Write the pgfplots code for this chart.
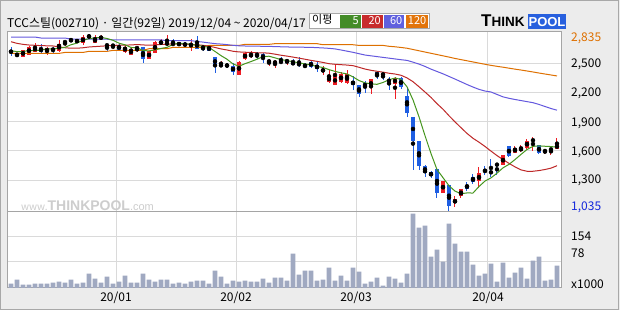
\documentclass[border=0pt]{standalone}
\usepackage{fontspec}
\setmainfont{Noto Sans CJK KR}
\newfontfamily\logofont{Liberation Sans}
\usepackage{pgfplots}
\usepackage{pgfplotstable}
\pgfplotsset{compat=1.18}

\definecolor{bgc}{RGB}{236,236,236}
\definecolor{outerc}{RGB}{168,168,168}
\definecolor{framec}{RGB}{165,165,165}
\definecolor{gridc}{RGB}{218,218,218}
\definecolor{upc}{RGB}{238,28,36}
\definecolor{dnc}{RGB}{30,94,226}
\definecolor{ma5c}{RGB}{70,150,30}
\definecolor{ma20c}{RGB}{190,40,40}
\definecolor{ma60c}{RGB}{100,88,222}
\definecolor{ma120c}{RGB}{222,112,0}
\definecolor{box5}{RGB}{68,140,40}
\definecolor{box20}{RGB}{200,44,44}
\definecolor{box60}{RGB}{96,96,222}
\definecolor{box120}{RGB}{226,116,10}
\definecolor{volc}{RGB}{160,169,193}
\definecolor{lblorange}{RGB}{222,112,0}
\definecolor{lblblue}{RGB}{20,40,220}
\definecolor{logoblue}{RGB}{40,96,222}
\definecolor{wmc}{RGB}{205,205,205}

\pgfplotstableread{
i o h l c
2 2568 2640 2565 2637
3 2589 2675 2585 2671
4 2619 2705 2616 2671
6 2619 2664 2589 2654
8 2630 2739 2619 2698
9 2712 2730 2678 2726
10 2726 2760 2719 2746
11 2719 2753 2705 2739
12 2712 2794 2684 2774
13 2767 2801 2753 2787
14 2712 2787 2712 2760
15 2753 2787 2739 2774
17 2680 2691 2650 2685
19 2616 2691 2609 2671
20 2589 2671 2589 2643
21 2650 2671 2616 2664
23 2547 2630 2541 2623
24 2609 2726 2602 2719
25 2705 2746 2684 2719
26 2684 2787 2678 2719
30 2684 2746 2623 2698
35 2475 2527 2465 2482
38 2383 2520 2376 2513
39 2541 2616 2534 2609
40 2568 2623 2554 2595
43 2507 2541 2472 2534
44 2500 2534 2452 2520
46 2513 2547 2486 2534
52 2417 2472 2383 2438
53 2308 2431 2301 2369
54 2280 2479 2280 2369
55 2308 2410 2294 2390
56 2294 2431 2287 2390
60 2253 2342 2184 2335
64 2287 2362 2136 2349
72 1163 1293 1163 1287
74 1060 1136 1026 1101
75 1136 1211 1115 1204
78 1293 1430 1218 1369
82 1458 1554 1451 1554
84 1581 1650 1574 1629
85 1595 1664 1588 1636
86 1629 1718 1622 1705
87 1705 1739 1602 1712
89 1588 1616 1568 1609
90 1609 1629 1561 1622
91 1616 1732 1616 1670
}\upTab

\pgfplotstableread{
i o h l c
0 2637 2664 2575 2602
1 2602 2609 2561 2575
5 2654 2698 2595 2619
7 2654 2671 2602 2630
16 2691 2691 2630 2681
18 2691 2705 2623 2637
22 2664 2671 2500 2541
27 2705 2746 2684 2691
28 2705 2712 2684 2691
29 2698 2719 2671 2684
31 2712 2780 2650 2650
32 2671 2684 2623 2655
33 2670 2691 2623 2630
34 2561 2561 2397 2479
36 2493 2500 2452 2465
37 2472 2500 2383 2410
41 2595 2616 2541 2582
42 2595 2609 2500 2547
45 2520 2568 2500 2507
47 2513 2547 2479 2486
48 2500 2561 2458 2479
49 2486 2500 2452 2458
50 2513 2527 2452 2465
51 2486 2513 2410 2445
57 2321 2369 2225 2280
58 2280 2280 2157 2184
59 2301 2321 2198 2253
61 2410 2417 2335 2369
62 2397 2403 2328 2376
63 2328 2362 2225 2315
65 2349 2362 2239 2260
66 2164 2253 1945 1993
67 1945 1945 1403 1705
68 1705 1705 1403 1444
69 1444 1451 1328 1376
70 1382 1396 1321 1341
71 1410 1410 1115 1170
73 1245 1252 985 1033
76 1252 1280 1191 1211
77 1328 1362 1259 1280
79 1403 1444 1348 1382
80 1389 1520 1328 1369
81 1465 1472 1348 1451
83 1650 1650 1540 1547
88 1657 1664 1568 1574
}\dnTab

\pgfplotstableread{
i m5 m20 m60 m120 v
0 2630 2722 2770 2602 13
1 2620 2705 2770 2602 25
2 2622 2695 2770 2602 10
3 2630 2688 2770 2602 10
4 2631 2685 2770 2602 13
5 2635 2682 2760 2602 13
6 2650 2680 2760 2602 13
7 2649 2678 2760 2602 16
8 2654 2670 2760 2602 19
9 2665 2660 2760 2612 16
10 2691 2655 2748 2612 25
11 2708 2655 2748 2612 13
12 2737 2660 2748 2612 16
13 2754 2668 2748 2623 43
14 2761 2672 2748 2623 28
15 2767 2676 2748 2623 16
16 2755 2680 2748 2623 34
17 2737 2684 2740 2633 13
18 2707 2686 2740 2633 19
19 2690 2687 2740 2633 37
20 2663 2689 2740 2633 16
21 2660 2693 2740 2633 16
22 2631 2689 2740 2633 43
23 2628 2686 2740 2650 25
24 2638 2689 2740 2650 19
25 2653 2694 2740 2650 25
26 2664 2697 2733 2650 25
27 2694 2700 2733 2664 13
28 2708 2700 2733 2664 16
29 2701 2697 2733 2664 13
30 2697 2695 2733 2664 19
31 2683 2691 2725 2664 22
32 2676 2685 2718 2664 22
33 2663 2677 2710 2684 13
34 2622 2663 2702 2684 52
35 2579 2648 2698 2684 34
36 2542 2637 2692 2684 13
37 2493 2624 2685 2684 22
38 2470 2617 2680 2684 19
39 2496 2614 2678 2695 22
40 2518 2612 2677 2695 19
41 2542 2608 2676 2695 19
42 2569 2608 2675 2695 28
43 2573 2604 2674 2695 16
44 2556 2594 2672 2702 31
45 2538 2583 2670 2702 31
46 2528 2574 2668 2702 22
47 2516 2564 2667 2702 103
48 2505 2553 2666 2702 40
49 2493 2542 2665 2702 52
50 2484 2530 2664 2702 52
51 2467 2520 2661 2702 22
52 2457 2509 2658 2691 25
53 2435 2496 2654 2691 61
54 2417 2490 2648 2691 22
55 2402 2486 2637 2691 37
56 2391 2482 2625 2691 22
57 2360 2476 2613 2691 61
58 2323 2459 2599 2684 49
59 2299 2441 2585 2684 13
60 2288 2428 2577 2684 19
61 2284 2418 2569 2684 31
62 2303 2409 2561 2684 7
63 2330 2398 2553 2675 34
64 2349 2390 2545 2670 28
65 2334 2377 2537 2663 16
66 2259 2350 2530 2655 43
67 2124 2311 2512 2642 223
68 1950 2259 2492 2629 181
69 1756 2205 2468 2616 187
70 1572 2149 2440 2603 94
71 1407 2085 2416 2590 115
72 1324 2028 2392 2577 79
73 1241 1961 2365 2564 193
74 1186 1898 2338 2550 133
75 1159 1838 2310 2538 109
76 1167 1779 2282 2526 109
77 1166 1729 2256 2514 70
78 1233 1689 2232 2502 37
79 1289 1645 2215 2490 43
80 1322 1597 2205 2479 73
81 1370 1551 2180 2469 19
82 1425 1510 2155 2460 76
83 1461 1471 2140 2450 31
84 1510 1435 2128 2440 46
85 1563 1404 2117 2431 61
86 1614 1390 2106 2421 28
87 1646 1390 2095 2411 82
88 1651 1397 2077 2400 94
89 1647 1408 2056 2390 22
90 1644 1422 2035 2380 25
91 1637 1447 2018 2370 67
}\maTab

\newcommand{\lbl}{\fontsize{12}{13}\selectfont}

\begin{document}
\begin{tikzpicture}[x=1pt,y=1pt]
\fill[bgc] (0,0) rectangle (620,310);
\draw[outerc, line width=1pt] (0.5,0.5) rectangle (618.5,309.5);

% price panel
\begin{axis}[at={(7pt,98pt)}, anchor=south west, scale only axis,
  width=554pt, height=180pt, xmin=-0.67, xmax=91.67, ymin=971, ymax=2822,
  axis background/.style={fill=white},
  axis line style={draw=framec, line width=1pt},
  xtick={17.5,37.5,57.5,79.5}, ytick={1300,1600,1900,2200,2500},
  xticklabels={}, yticklabels={}, major tick length=0pt,
  xmajorgrids, ymajorgrids, major grid style={draw=gridc, line width=1pt},
  clip=true]
% wicks and bodies
\addplot[only marks, mark=none, forget plot,
  error bars/.cd, y dir=both, y explicit, error mark=none,
  error bar style={draw=upc, line width=1pt}]
  table[x=i, y expr={(\thisrow{h}+\thisrow{l})/2}, y error expr={(\thisrow{h}-\thisrow{l})/2}] {\upTab};
\addplot[only marks, mark=none, forget plot,
  error bars/.cd, y dir=both, y explicit, error mark=none,
  error bar style={draw=upc, line width=4.4pt}]
  table[x=i, y expr={(\thisrow{o}+\thisrow{c})/2}, y error expr={max(abs(\thisrow{o}-\thisrow{c})/2,6)}] {\upTab};
\addplot[only marks, mark=none, forget plot,
  error bars/.cd, y dir=both, y explicit, error mark=none,
  error bar style={draw=dnc, line width=1pt}]
  table[x=i, y expr={(\thisrow{h}+\thisrow{l})/2}, y error expr={(\thisrow{h}-\thisrow{l})/2}] {\dnTab};
\addplot[only marks, mark=none, forget plot,
  error bars/.cd, y dir=both, y explicit, error mark=none,
  error bar style={draw=dnc, line width=4.4pt}]
  table[x=i, y expr={(\thisrow{o}+\thisrow{c})/2}, y error expr={max(abs(\thisrow{o}-\thisrow{c})/2,6)}] {\dnTab};
% moving averages
\addplot[ma120c, line width=1pt, mark=none] table[x=i, y=m120] {\maTab};
\addplot[ma60c, line width=1pt, mark=none] table[x=i, y=m60] {\maTab};
\addplot[ma20c, line width=1pt, mark=none] table[x=i, y=m20] {\maTab};
\addplot[ma5c, line width=1pt, mark=none] table[x=i, y=m5] {\maTab};
\end{axis}

% volume panel
\begin{axis}[at={(7pt,22pt)}, anchor=south west, scale only axis,
  width=554pt, height=76pt, xmin=-0.67, xmax=91.67, ymin=0, ymax=228,
  axis background/.style={fill=white},
  axis line style={draw=framec, line width=1pt},
  xtick={17.5,37.5,57.5,79.5}, ytick={78,154},
  xticklabels={}, yticklabels={}, major tick length=0pt,
  xmajorgrids, ymajorgrids, major grid style={draw=gridc, line width=1pt},
  clip=true]
\addplot[ybar, bar width=4.6pt, fill=volc, draw=none] table[x=i, y=v] {\maTab};
\end{axis}

% watermark
\node[anchor=west, inner sep=0, text=wmc] at (21,104)
 {\fontsize{10}{10}\selectfont www.\logofont\bfseries\fontsize{14}{14}\selectfont THINKPOOL\mdseries\fontsize{11}{11}\selectfont .com};

% title
\node[anchor=base west, inner sep=0] at (7,282.5)
 {\lbl TCC스틸(002710) · 일간(92일) 2019/12/04 \textasciitilde{} 2020/04/17};

% MA legend
\draw[outerc, fill=white] (309.5,281.5) rectangle (429.5,296.5);
\node[anchor=mid west, inner sep=0] at (312,289) {\fontsize{11}{12}\selectfont 이평};
\fill[box5] (340,282) rectangle (360.5,295);
\fill[box20] (362,282) rectangle (382.5,295);
\fill[box60] (384,282) rectangle (404,295);
\fill[box120] (405.5,282) rectangle (427.5,295);
\node[anchor=mid east, inner sep=0, text=white] at (359,288.5) {\fontsize{11}{12}\selectfont 5};
\node[anchor=mid east, inner sep=0, text=white] at (381,288.5) {\fontsize{11}{12}\selectfont 20};
\node[anchor=mid east, inner sep=0, text=white] at (402.5,288.5) {\fontsize{11}{12}\selectfont 60};
\node[anchor=mid east, inner sep=0, text=white] at (426.5,288.5) {\fontsize{11}{12}\selectfont 120};

% logo
\node[anchor=base west, inner sep=0] at (481,283)
 {\logofont\bfseries\fontsize{17}{17}\selectfont T\fontsize{13.5}{14}\selectfont HINK};
\fill[logoblue] (528,281) rectangle (566,296);
\node[anchor=base, inner sep=0, text=white] at (547,283)
 {\logofont\bfseries\fontsize{13}{13}\selectfont POOL};

% right axis labels
\node[anchor=mid west, inner sep=0, text=lblorange] at (571,271.7) {\lbl 2,835};
\node[anchor=mid west, inner sep=0] at (571,245.7) {\lbl 2,500};
\node[anchor=mid west, inner sep=0] at (571,216.7) {\lbl 2,200};
\node[anchor=mid west, inner sep=0] at (571,186.7) {\lbl 1,900};
\node[anchor=mid west, inner sep=0] at (571,157.7) {\lbl 1,600};
\node[anchor=mid west, inner sep=0] at (571,129.3) {\lbl 1,300};
\node[anchor=mid west, inner sep=0, text=lblblue] at (571,102.7) {\lbl 1,035};
\node[anchor=mid west, inner sep=0] at (571,72.7) {\lbl 154};
\node[anchor=mid west, inner sep=0] at (571,55.7) {\lbl 78};
\node[anchor=mid west, inner sep=0] at (571,24.3) {\lbl x1000};

% date labels
\node[anchor=mid, inner sep=0] at (116,11) {\lbl 20/01};
\node[anchor=mid, inner sep=0] at (236,11) {\lbl 20/02};
\node[anchor=mid, inner sep=0] at (356,11) {\lbl 20/03};
\node[anchor=mid, inner sep=0] at (488,11) {\lbl 20/04};

\pgfresetboundingbox
\useasboundingbox (0,0) rectangle (620,310);
\end{tikzpicture}
\end{document}
